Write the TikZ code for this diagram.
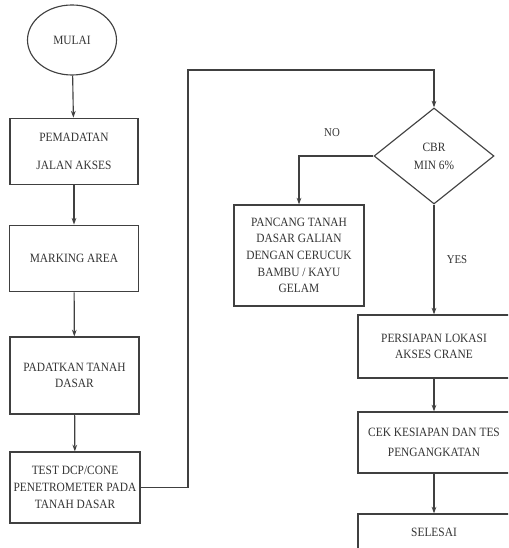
\documentclass[tikz,border=0pt]{standalone}
\usepackage{fontspec}
\setmainfont{Liberation Serif}[FakeStretch=0.9]
\usetikzlibrary{shapes.geometric,arrows.meta}
\tikzset{
  ink/.style={draw=black!75, line width=0.85pt},
  stepbox/.style={ink, rectangle, align=center, inner sep=2pt},
  startend/.style={ink, ellipse, inner sep=0pt},
  decide/.style={ink, diamond, align=center, inner sep=0pt},
  flow/.style={ink, -{Stealth[length=5pt,width=3.5pt]}},
  lbl/.style={text=black!80, font=\fontsize{9}{11}\selectfont},
}
\begin{document}
\begin{tikzpicture}[x=0.75pt, y=-0.75pt, every node/.style={text=black!80, font=\fontsize{9.5}{12.5}\selectfont}]
    \clip (0,0) rectangle (508,548);
    \node [startend, minimum width=66.75pt, minimum height=52.5pt] (mulai) at (72, 40) {MULAI};
    \node [stepbox, minimum width=96pt, minimum height=50pt] (pemadatan) at (74, 151.5) {PEMADATAN\\[9pt]JALAN AKSES};
    \node [stepbox, minimum width=96.75pt, minimum height=50pt] (marking) at (74, 258.5) {MARKING AREA};
    \node [stepbox, minimum width=96.75pt, minimum height=57.75pt] (padatkan) at (74.5, 375.5) {PADATKAN TANAH\\DASAR};
    \node [stepbox, minimum width=97.5pt, minimum height=53.25pt] (test) at (75, 487.5) {TEST DCP/CONE\\PENETROMETER PADA\\TANAH DASAR};
    \node [decide, minimum width=90pt, minimum height=72pt] (cbr) at (434, 156) {CBR\\[1pt]MIN 6\%};
    \node [stepbox, minimum width=97.5pt, minimum height=75.75pt] (pancang) at (299, 255.5) {PANCANG TANAH\\DASAR GALIAN\\DENGAN CERUCUK\\BAMBU / KAYU\\GELAM};
    \node [stepbox, minimum width=114pt, minimum height=47.25pt] (persiapan) at (434, 346.5) {PERSIAPAN LOKASI\\AKSES CRANE};
    \node [stepbox, minimum width=114pt, minimum height=45.75pt] (cek) at (434, 442.5) {CEK KESIAPAN DAN TES\\[2pt]PENGANGKATAN};
    \node [stepbox, minimum width=114pt, minimum height=27pt] (selesai) at (434, 532) {SELESAI};
    \node [lbl] (no) at (332, 133) {NO};
    \node [lbl] (yes) at (457, 260) {YES};
    \coordinate (up) at (188, 70);
    \draw [flow] (mulai) to (pemadatan);
    \draw [flow] (pemadatan) to (marking);
    \draw [flow] (marking) to (padatkan);
    \draw [flow] (padatkan) to (test);
    \draw [flow] (test) -| (up) -| (cbr);
    \draw [flow] (cbr) -| (pancang);
    \draw [flow] (cbr) to (persiapan);
    \draw [flow] (persiapan) to (cek);
    \draw [flow] (cek) to (selesai);
\end{tikzpicture}
\end{document}
